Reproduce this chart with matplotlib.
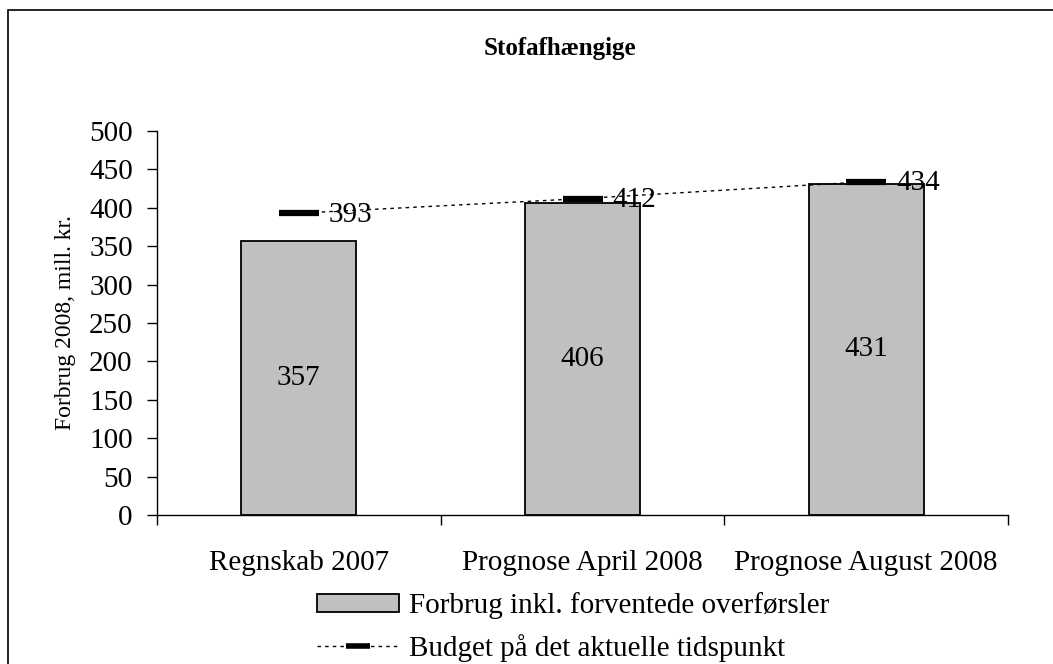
import matplotlib
matplotlib.use("Agg")
import matplotlib.pyplot as plt
from matplotlib.lines import Line2D
from matplotlib.patches import Rectangle, Patch

categories = ["Regnskab 2007", "Prognose April 2008", "Prognose August 2008"]
forbrug = [357, 406, 431]
budget = [393, 412, 434]
yticks = list(range(0, 501, 50))

plt.rcParams['font.family'] = ['Liberation Serif', 'DejaVu Serif']
FS = 21

W, H = 1053, 664
fig = plt.figure(figsize=(W / 100, H / 100), dpi=100)
ax = fig.add_axes([157 / W, 1 - 515 / H, (1008 - 157) / W, (515 - 131) / H])

x = list(range(len(categories)))
ax.bar(x, forbrug, width=0.405, color='#c0c0c0', edgecolor='black', linewidth=1.3, zorder=2)
ax.plot(x, budget, color='black', linestyle=(0, (2.5, 3)), linewidth=1.0,
        marker='_', markersize=29, markeredgewidth=4.5, zorder=3)

for xi, v in zip(x, forbrug):
    ax.text(xi, v / 2, str(v), ha='center', va='center', fontsize=FS)
for xi, v in zip(x, budget):
    ax.text(xi + 0.105, v - 2, str(v), ha='left', va='center', fontsize=FS, zorder=4)

ax.set_xlim(-0.5, 2.5)
ax.set_ylim(0, 500)
ax.set_yticks(yticks)
ax.tick_params(axis='y', labelsize=FS, direction='out', length=7.5, width=1, pad=10)
ax.set_xticks([-0.5, 0.5, 1.5, 2.5])
ax.set_xticklabels([])
ax.set_xticks(x, minor=True)
ax.set_xticklabels(categories, minor=True, fontsize=FS)
ax.tick_params(axis='x', which='major', direction='out', length=7.5, width=1)
ax.tick_params(axis='x', which='minor', length=0, pad=25)
for s in ['top', 'right']:
    ax.spines[s].set_visible(False)
ax.spines['left'].set_linewidth(1)
ax.spines['bottom'].set_linewidth(1)

ax.set_ylabel("Forbrug 2008, mill. kr.", fontsize=17, labelpad=9)
fig.text(560 / W, 1 - 49 / H, "Stofafhængige", ha='center', va='center',
         fontsize=18, fontweight='bold')

# outer frame
fig.patches.append(Rectangle((8 / W, -0.1), 1.2, 1 - 10 / H + 0.1, transform=fig.transFigure,
                             fill=False, edgecolor='black', linewidth=1.2))

h1 = Patch(facecolor='#c0c0c0', edgecolor='black', linewidth=1.3)
h2 = Line2D([], [], color='black', linestyle=(0, (2.5, 3)), linewidth=1.0,
            marker='_', markersize=17, markeredgewidth=4)
fig.legend([h1, h2], ["Forbrug inkl. forventede overførsler", "Budget på det aktuelle tidspunkt"],
           loc='center', bbox_to_anchor=(573 / W, 1 - 627 / H), frameon=False, fontsize=FS,
           handlelength=2.8, handleheight=0.6, labelspacing=0.5, handletextpad=0.35, numpoints=1,
           borderpad=0)

fig.savefig("out.png", dpi=100)
